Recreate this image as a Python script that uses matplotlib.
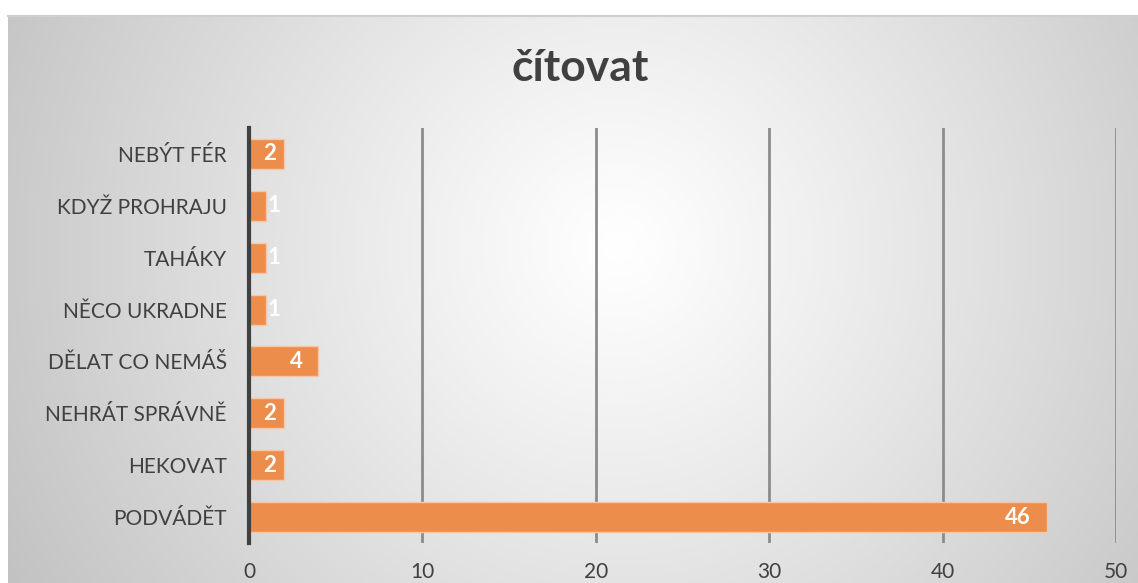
import numpy as np
import matplotlib
matplotlib.use("Agg")
import matplotlib.pyplot as plt

categories = ["PODVÁDĚT", "HEKOVAT", "NEHRÁT SPRÁVNĚ", "DĚLAT CO NEMÁŠ",
              "NĚCO UKRADNE", "TAHÁKY", "KDYŽ PROHRAJU", "NEBÝT FÉR"]
values = [46, 2, 2, 4, 1, 1, 1, 2]
xticks = [0, 10, 20, 30, 40, 50]
title = "čítovat"

plt.rcParams['font.family'] = ['Lato', 'DejaVu Sans']
W, H = 1138, 583
fig = plt.figure(figsize=(W / 100, H / 100), dpi=100)
fig.patch.set_facecolor("white")

# gradient background
bg = fig.add_axes([8 / W, 0, (W - 8) / W, (H - 16) / H])
bg.set_axis_off()
nx, ny = 400, 200
xx, yy = np.meshgrid(np.linspace(0, 1130, nx), np.linspace(0, 567, ny))
cx, cy = 610, 230
r = np.sqrt((xx - cx) ** 2 + (yy - cy) ** 2)
t = np.clip(r / 700, 0, 1) ** 1.1
val = 1.0 - t * (1.0 - 0.76)
img = np.dstack([val, val, val])
bg.imshow(img, extent=[0, 1, 0, 1], aspect='auto', origin='upper')
fig.add_artist(plt.Line2D([8 / W, 1], [(H - 16) / H] * 2, color="#d0d0d0", lw=1.5))

ax = fig.add_axes([249 / W, 1 - 543 / H, (1116 - 249) / W, (543 - 128) / H])
ax.patch.set_alpha(0)
y = np.arange(len(categories))
ax.barh(y, values, height=0.58, color="#ED8D4C", edgecolor="#F6C7A6", linewidth=1, zorder=3)
ax.set_xlim(0, 50)
ax.set_ylim(-0.5, len(categories) - 0.5)
ax.set_xticks(xticks)
ax.set_xticklabels([str(v) for v in xticks])
ax.set_yticks(y)
ax.set_yticklabels(categories)
ax.tick_params(axis='both', length=0, labelsize=15, labelcolor="#404040")
ax.tick_params(axis='y', pad=16)
ax.tick_params(axis='x', pad=14)
ax.grid(axis='x', color="#8c8c8c", linewidth=2, zorder=1)
for s in ["top", "right", "bottom"]:
    ax.spines[s].set_visible(False)
ax.spines["left"].set_color("#404040")
ax.spines["left"].set_linewidth(3)
ax.spines["left"].set_zorder(4)

for yi, v in zip(y, values):
    if v >= 4:
        ax.text(v - 0.9, yi, str(v), ha='right', va='center', color='white',
                fontsize=16, fontweight='bold', zorder=5)
    elif v >= 2:
        ax.text(v - 0.45, yi, str(v), ha='right', va='center', color='white',
                fontsize=16, fontweight='bold', zorder=5)
    else:
        ax.text(v + 0.05, yi, str(v), ha='left', va='center', color='white',
                fontsize=16, fontweight='bold', zorder=5)

fig.text(580 / W, 1 - 68 / H, title, ha='center', va='center', fontsize=32,
         fontweight='bold', color="#404040")

fig.savefig("out.png", dpi=100)
